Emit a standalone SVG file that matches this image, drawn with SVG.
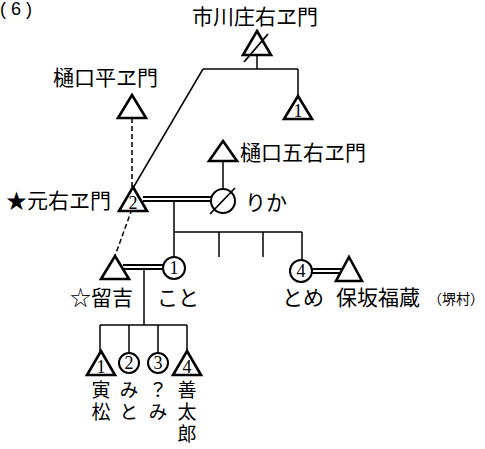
<svg xmlns="http://www.w3.org/2000/svg" width="485" height="449" viewBox="0 0 485 449">
<style>
.t{font-family:"Noto Sans CJK JP","Liberation Serif",serif;font-size:21px;fill:#000}
.v{font-family:"Noto Sans CJK JP","Liberation Serif",serif;font-size:19px;fill:#000;writing-mode:vertical-rl;letter-spacing:3px}
.s{font-family:"Noto Sans CJK JP","Liberation Serif",serif;font-size:14px;fill:#000}
.n{font-family:"Liberation Serif",serif;font-size:18px;fill:#000;text-anchor:middle}
.tri{fill:#fff;stroke:#000;stroke-width:2.6;stroke-linejoin:miter}
.cir{fill:#fff;stroke:#000;stroke-width:2}
.ln{stroke:#000;stroke-width:1.5;fill:none}
.dl{stroke:#000;stroke-width:2;fill:none}
.da{stroke:#000;stroke-width:1.5;fill:none;stroke-dasharray:5,3}
.st{stroke:#000;stroke-width:1.8}
</style>
<rect width="485" height="449" fill="#fff"/>
<text x="0" y="15" font-family="Liberation Sans, sans-serif" font-size="18" xml:space="preserve">( 6 )</text>
<g id="connectors">
<line class="ln" x1="257" y1="55" x2="257" y2="69"/>
<line class="ln" x1="203" y1="69" x2="298" y2="69"/>
<line class="ln" x1="298" y1="69" x2="298" y2="96"/>
<line class="ln" x1="203" y1="69" x2="133" y2="188"/>
<line class="da" x1="132" y1="118" x2="132" y2="188"/>
<line class="da" x1="132" y1="209" x2="115" y2="256"/>
<line class="dl" x1="143" y1="197" x2="211" y2="197"/>
<line class="dl" x1="143" y1="201" x2="211" y2="201"/>
<line class="ln" x1="223" y1="161" x2="223" y2="189"/>
<line class="ln" x1="174" y1="201" x2="174" y2="257"/>
<line class="ln" x1="174" y1="232" x2="302" y2="232"/>
<line class="ln" x1="219" y1="232" x2="219" y2="257"/>
<line class="ln" x1="263" y1="232" x2="263" y2="257"/>
<line class="ln" x1="302" y1="232" x2="302" y2="260"/>
<line class="dl" x1="123" y1="265" x2="163" y2="265"/>
<line class="dl" x1="123" y1="269" x2="163" y2="269"/>
<line class="ln" x1="144" y1="269" x2="144" y2="325"/>
<line class="ln" x1="100" y1="325" x2="187" y2="325"/>
<line class="ln" x1="100" y1="325" x2="100" y2="352"/>
<line class="ln" x1="129" y1="325" x2="129" y2="353"/>
<line class="ln" x1="158" y1="325" x2="158" y2="353"/>
<line class="ln" x1="187" y1="325" x2="187" y2="352"/>
<line class="dl" x1="312" y1="269" x2="343" y2="269"/>
<line class="dl" x1="312" y1="273" x2="343" y2="273"/>
</g>
<g id="ichikawa">
<polygon class="tri" points="257,31 271,55 243,55"/>
<line class="st" x1="244" y1="62" x2="268" y2="34"/>
<text class="t" x="192" y="24">市川庄右ヱ門</text>
</g>
<g id="ichikawa-child1">
<polygon class="tri" points="298,96 312,119 284,119"/>
<text class="n" x="298" y="117">1</text>
</g>
<g id="higuchi-hei">
<polygon class="tri" points="132,95 146,118 118,118"/>
<text class="t" x="53" y="85">樋口平ヱ門</text>
</g>
<g id="higuchi-go">
<polygon class="tri" points="223,141 237,161 209,161"/>
<text class="t" x="240" y="160">樋口五右ヱ門</text>
</g>
<g id="motoemon">
<polygon class="tri" points="133,187 147,211 119,211"/>
<text class="n" x="133" y="209">2</text>
<text class="t" x="6" y="208">★元右ヱ門</text>
</g>
<g id="rika">
<circle class="cir" cx="223" cy="201" r="12"/>
<line class="st" x1="210" y1="214" x2="235" y2="188"/>
<text class="t" x="245" y="210">りか</text>
</g>
<g id="tomekichi">
<polygon class="tri" points="115,256 129,279 101,279"/>
<text class="t" x="70" y="305">☆留吉</text>
</g>
<g id="koto">
<circle class="cir" cx="174" cy="268" r="11"/>
<text class="n" x="174" y="274">1</text>
<text class="t" x="157" y="305">こと</text>
</g>
<g id="tome">
<circle class="cir" cx="301" cy="271" r="11"/>
<text class="n" x="301" y="277">4</text>
<text class="t" x="282" y="305">とめ</text>
</g>
<g id="hosaka">
<polygon class="tri" points="349,257 362,281 336,281"/>
<text class="t" x="336" y="305">保坂福蔵</text>
<text class="s" x="428" y="304">（堺村）</text>
</g>
<g id="toramatsu">
<polygon class="tri" points="101,351 115,375 87,375"/>
<text class="n" x="101" y="373">1</text>
<text class="v" x="101" y="380">寅松</text>
</g>
<g id="mito">
<circle class="cir" cx="129" cy="363" r="10"/>
<text class="n" x="129" y="369">2</text>
<text class="v" x="129" y="380">みと</text>
</g>
<g id="qmi">
<circle class="cir" cx="158" cy="363" r="10"/>
<text class="n" x="158" y="369">3</text>
<text class="v" x="158" y="380">？み</text>
</g>
<g id="zentaro">
<polygon class="tri" points="187,351 201,375 173,375"/>
<text class="n" x="187" y="373">4</text>
<text class="v" x="187" y="380">善太郎</text>
</g>
</svg>
